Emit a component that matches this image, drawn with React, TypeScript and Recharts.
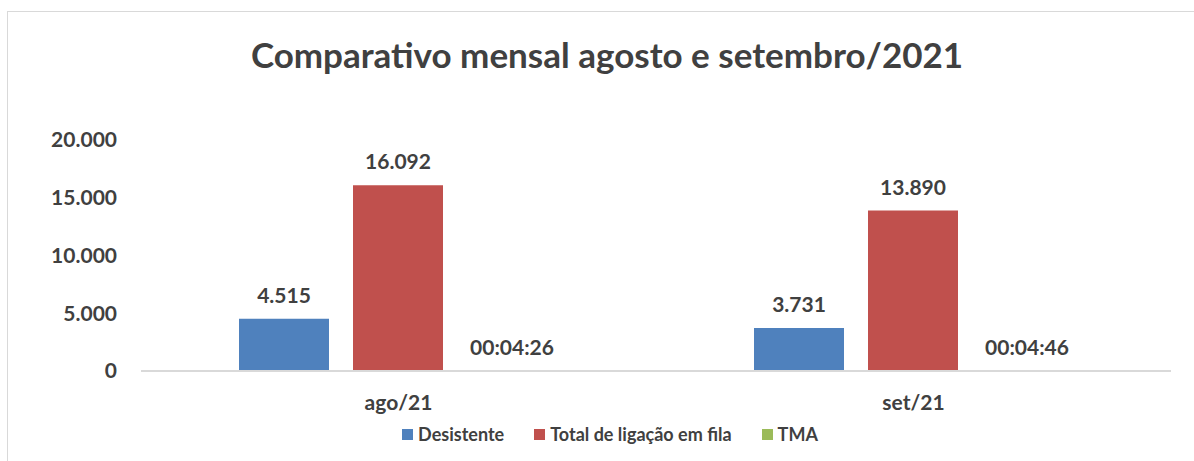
import { Bar, BarChart, LabelList, Legend, XAxis, YAxis } from "recharts";

const months = ["ago/21", "set/21"];
const desistente = [4515, 3731];
const totalFila = [16092, 13890];
// TMA stored as fraction of a day (Excel time value)
const tmaDays = [0.00308, 0.00331];
const yTicks = [0, 5000, 10000, 15000, 20000];
const seriesNames = ["Desistente", "Total de ligação em fila", "TMA"];
const seriesColors = ["#4f81bd", "#c0504d", "#9bbb59"];

const data = months.map((m, i) => ({
  month: m,
  desistente: desistente[i],
  total: totalFila[i],
  tma: tmaDays[i],
}));

const FONT = "Lato, 'Open Sans', sans-serif";
const TEXT = "#404040";

function fmtThousands(v: number): string {
  return String(Math.round(v)).replace(/\B(?=(\d{3})+(?!\d))/g, ".");
}

function fmtTime(v: number): string {
  const secs = Math.round(v * 86400);
  const pad = (n: number) => String(n).padStart(2, "0");
  return `${pad(Math.floor(secs / 3600))}:${pad(Math.floor((secs % 3600) / 60))}:${pad(secs % 60)}`;
}

const labelStyle = { fontSize: 21, fontWeight: 700, fill: TEXT, fontFamily: FONT };

function LegendContent() {
  return (
    <div
      style={{
        display: "flex",
        justifyContent: "center",
        alignItems: "center",
        gap: 30,
        paddingLeft: 26,
        fontFamily: FONT,
        fontWeight: 700,
        fontSize: 18,
        color: TEXT,
        lineHeight: "22px",
      }}
    >
      {seriesNames.map((name, i) => (
        <div key={name} style={{ display: "flex", alignItems: "center", gap: 5 }}>
          <span style={{ display: "inline-block", width: 11, height: 11, background: seriesColors[i] }} />
          <span>{name}</span>
        </div>
      ))}
    </div>
  );
}

export default function App() {
  return (
    <div style={{ position: "absolute", left: 0, top: 0, width: 1194, height: 461, overflow: "hidden", background: "#fff" }}>
      <div
        style={{
          position: "absolute",
          left: 7,
          top: 11,
          width: 1200,
          height: 460,
          borderTop: "1px solid #d9d9d9",
          borderLeft: "1px solid #d9d9d9",
        }}
      />
      <div
        style={{
          position: "absolute",
          left: 10,
          width: 1194,
          top: 33,
          textAlign: "center",
          fontFamily: FONT,
          fontWeight: 700,
          fontSize: 35,
          color: TEXT,
        }}
      >
        Comparativo mensal agosto e setembro/2021
      </div>
      <div style={{ position: "absolute", left: 0, top: 0 }}>
        <BarChart
          width={1194}
          height={461}
          data={data}
          margin={{ top: 140, right: 23, bottom: 16, left: 0 }}
          barGap={24}
          barCategoryGap={98}
        >
          <XAxis
            dataKey="month"
            height={52}
            axisLine={{ stroke: "#d9d9d9", strokeWidth: 2 }}
            tickLine={false}
            tickMargin={18}
            tick={{ ...labelStyle }}
          />
          <YAxis
            width={141}
            domain={[0, 20000]}
            ticks={yTicks}
            axisLine={false}
            tickLine={false}
            tickSize={0}
            tickMargin={24}
            tickFormatter={fmtThousands}
            tick={{ ...labelStyle }}
          />
          <Legend
            verticalAlign="bottom"
            align="center"
            wrapperStyle={{ left: 0, width: 1194 }}
            content={<LegendContent />}
          />
          <Bar dataKey="desistente" name={seriesNames[0]} fill={seriesColors[0]} isAnimationActive={false}>
            <LabelList dataKey="desistente" position="top" offset={16} formatter={(v: any) => fmtThousands(Number(v))} style={labelStyle} />
          </Bar>
          <Bar dataKey="total" name={seriesNames[1]} fill={seriesColors[1]} isAnimationActive={false}>
            <LabelList dataKey="total" position="top" offset={16} formatter={(v: any) => fmtThousands(Number(v))} style={labelStyle} />
          </Bar>
          <Bar dataKey="tma" name={seriesNames[2]} fill={seriesColors[2]} isAnimationActive={false}>
            <LabelList dataKey="tma" position="top" offset={16} formatter={(v: any) => fmtTime(Number(v))} style={labelStyle} />
          </Bar>
        </BarChart>
      </div>
    </div>
  );
}
